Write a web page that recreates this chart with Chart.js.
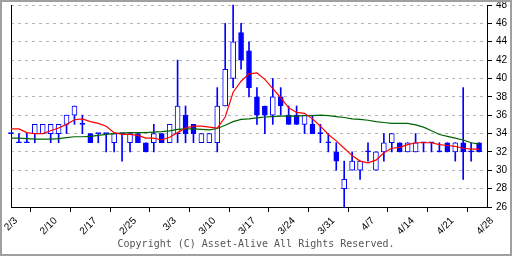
<!DOCTYPE html>
<html>
<head>
<meta charset="utf-8">
<script src="https://cdn.jsdelivr.net/npm/chart.js@4"></script>
<style>
body { margin: 0; background: #fff; }
</style>
</head>
<body>
<canvas id="grafico" width="512" height="256"></canvas>
<script>
// Etiquetas del eje X (una cada 5 sesiones)
const etiquetasFecha = ['2/3', '2/10', '2/17', '2/25', '3/3', '3/10', '3/17', '3/24', '3/31', '4/7', '4/14', '4/21', '4/28'];

// Velas: apertura, máximo, mínimo, cierre
const apertura = [34, 33, 33, 34, 34, 34, 34, 35, 36, 35, 34, 34, 34, 33, 34, 33, 34, 33, 33, 34,
                  33, 34, 36, 35, 33, 33, 33, 37, 40, 45, 43, 38, 37, 36, 38, 36, 36, 35, 35, 34,
                  33, 32, 28, 30, 30, 32, 30, 32, 33, 33, 32, 32, 33, 33, 32, 33, 32, 33, 32, 33];
const maximo   = [34, 34, 34, 35, 35, 35, 35, 36, 37, 36, 34, 34, 34, 34, 34, 34, 34, 33, 35, 34,
                  35, 42, 37, 35, 34, 34, 39, 46, 48, 46, 44, 39, 37, 40, 39, 37, 37, 36, 36, 35,
                  34, 33, 31, 32, 31, 33, 32, 34, 34, 33, 33, 34, 33, 33, 33, 33, 33, 39, 33, 33];
const minimo   = [34, 33, 33, 33, 34, 33, 33, 34, 35, 34, 33, 33, 32, 32, 31, 32, 33, 32, 32, 33,
                  33, 33, 33, 33, 33, 33, 32, 37, 39, 41, 38, 35, 34, 35, 36, 35, 35, 34, 34, 33,
                  32, 30, 26, 30, 29, 31, 30, 31, 32, 32, 32, 32, 32, 32, 32, 32, 31, 29, 31, 32];
const cierre   = [34, 33, 33, 35, 35, 35, 35, 36, 37, 35, 33, 34, 34, 34, 34, 34, 33, 32, 34, 33,
                  35, 37, 34, 34, 34, 34, 37, 41, 44, 42, 39, 36, 36, 38, 37, 35, 35, 36, 34, 34,
                  33, 31, 29, 31, 31, 32, 32, 33, 34, 32, 33, 33, 33, 33, 32, 32, 33, 32, 32, 32];

// Medias móviles (corta en rojo, larga en verde)
const mediaCorta = [34.5, 34.5, 34.1, 34.0, 34.0, 34.3, 34.6, 35.0, 35.5, 35.6, 35.3, 35.1, 34.8, 34.1, 33.9,
                    33.9, 33.8, 33.5, 33.5, 33.3, 33.6, 34.1, 34.6, 34.8, 34.8, 34.7, 34.6, 35.8, 38.5, 39.7,
                    40.5, 40.6, 39.9, 38.9, 37.9, 36.8, 36.3, 36.2, 35.6, 34.8, 33.9, 33.2, 32.4, 31.6, 31.0,
                    30.8, 31.1, 31.9, 32.4, 32.5, 32.8, 33.0, 33.0, 33.0, 32.8, 32.7, 32.6, 32.4, 32.3, 32.3];
const mediaLarga = [33.5, 33.5, 33.45, 33.4, 33.4, 33.4, 33.45, 33.55, 33.65, 33.65, 33.7, 33.8, 33.9, 34.0, 34.05,
                    34.1, 34.1, 34.1, 34.15, 34.2, 34.3, 34.45, 34.5, 34.5, 34.45, 34.4, 34.55, 34.9, 35.3, 35.55,
                    35.6, 35.7, 35.8, 35.85, 35.9, 35.9, 35.9, 35.95, 35.95, 36.0, 35.95, 35.85, 35.75, 35.6, 35.55,
                    35.45, 35.3, 35.2, 35.1, 35.1, 35.1, 34.95, 34.7, 34.3, 33.9, 33.7, 33.5, 33.3, 33.0, 32.85];

const AZUL = '#0000ff';

// 61 posiciones: cada 5 lleva fecha, el resto vacío
const etiquetas = [];
for (let i = 0; i <= 60; i++) {
    etiquetas.push(i % 5 === 0 ? etiquetasFecha[i / 5] : '');
}

const fuenteEje = { family: 'Liberation Sans', size: 10 };

const marco = {
    id: 'marco',
    beforeDraw(chart) {
        const ctx = chart.ctx;
        ctx.save();
        ctx.fillStyle = '#fff';
        ctx.fillRect(0, 0, chart.width, chart.height);
        ctx.restore();
    },
    afterDraw(chart) {
        const ctx = chart.ctx;
        ctx.save();
        ctx.strokeStyle = '#a0a0a0';
        ctx.lineWidth = 2;
        ctx.strokeRect(1, 1, chart.width - 2, chart.height - 2);
        ctx.restore();
    }
};

new Chart(document.getElementById('grafico'), {
    type: 'bar',
    data: {
        labels: etiquetas,
        datasets: [
            {
                type: 'line',
                data: mediaCorta,
                borderColor: '#ff0000',
                borderWidth: 1.2,
                pointRadius: 0,
                order: 1
            },
            {
                type: 'line',
                data: mediaLarga,
                borderColor: '#006400',
                borderWidth: 1.2,
                pointRadius: 0,
                order: 1
            },
            {
                // cuerpos de las velas
                data: apertura.map((o, i) => [o, cierre[i]]),
                backgroundColor: ctx => cierre[ctx.dataIndex] > apertura[ctx.dataIndex] ? '#ffffff' : AZUL,
                borderColor: AZUL,
                borderWidth: 1,
                borderSkipped: false,
                barThickness: 5,
                minBarLength: 1,
                grouped: false,
                clip: false,
                order: 2
            },
            {
                // mechas
                data: minimo.map((l, i) => [l, maximo[i]]),
                backgroundColor: AZUL,
                barThickness: 1,
                grouped: false,
                clip: false,
                order: 3
            }
        ]
    },
    options: {
        responsive: false,
        devicePixelRatio: 1,
        animation: false,
        layout: { padding: { left: 0, top: 5, right: 0, bottom: 0 } },
        plugins: {
            legend: { display: false },
            tooltip: { enabled: false },
            title: {
                display: true,
                position: 'bottom',
                text: 'Copyright (C) Asset-Alive All Rights Reserved.',
                font: { family: 'DejaVu Sans Mono', size: 10, weight: 'normal' },
                color: '#555',
                padding: { top: 2, bottom: 6 }
            }
        },
        scales: {
            x: {
                offset: false,
                grid: { drawOnChartArea: false, tickColor: '#000', tickLength: 5 },
                border: { color: '#000', width: 1 },
                ticks: {
                    autoSkip: false,
                    minRotation: 45,
                    maxRotation: 45,
                    padding: 3,
                    labelOffset: 5,
                    font: fuenteEje,
                    color: '#000',
                    callback: (v, i) => etiquetas[i] || null
                },
                afterFit: s => { s.height = 29; s.paddingLeft = 0; s.paddingRight = 0; }
            },
            y: {
                position: 'right',
                min: 26,
                max: 48,
                ticks: { stepSize: 2, font: fuenteEje, color: '#000', padding: 4 },
                grid: {
                    color: ctx => ctx.tick && ctx.tick.value === 26 ? 'rgba(0,0,0,0)' : '#b4b4b4',
                    tickColor: '#000',
                    tickLength: 5
                },
                border: { color: '#000', width: 1, dash: [3, 4] },
                afterFit: s => { s.width = 25; s.paddingTop = 0; s.paddingBottom = 0; }
            },
            izq: {
                position: 'left',
                min: 26,
                max: 48,
                ticks: { display: false },
                grid: { display: false },
                border: { color: '#000', width: 1 },
                afterFit: s => { s.width = 11; s.paddingTop = 0; s.paddingBottom = 0; }
            }
        }
    },
    plugins: [marco]
});
</script>
</body>
</html>
